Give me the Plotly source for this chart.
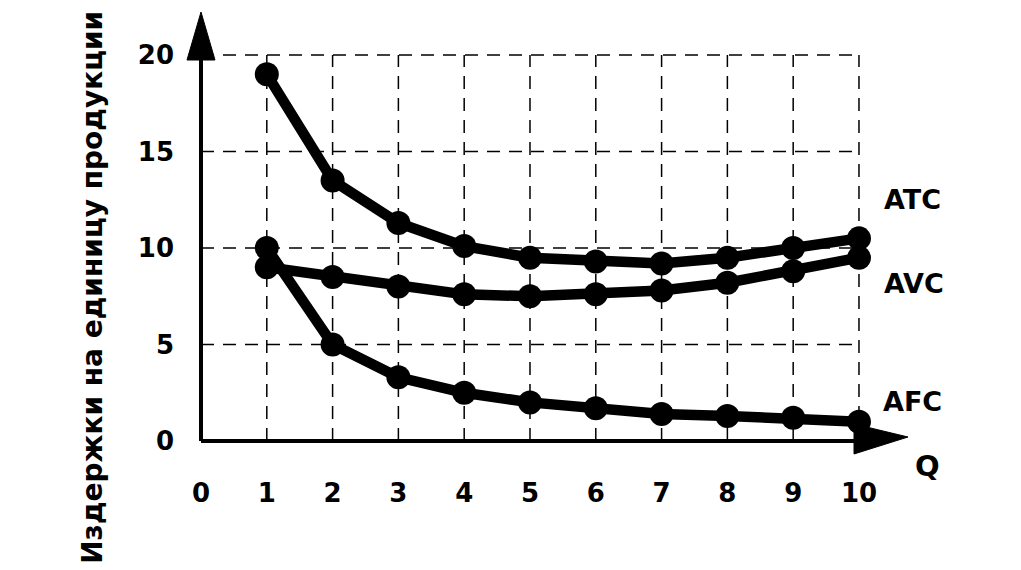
import plotly.graph_objects as go

Q = [1, 2, 3, 4, 5, 6, 7, 8, 9, 10]
ATC = [19.0, 13.5, 11.3, 10.1, 9.5, 9.3, 9.2, 9.5, 10.0, 10.5]
AVC = [9.0, 8.5, 8.0, 7.6, 7.5, 7.6, 7.8, 8.2, 8.8, 9.5]
AFC = [10.0, 5.0, 3.3, 2.5, 2.0, 1.7, 1.4, 1.3, 1.2, 1.0]
series = [("AFC", AFC), ("AVC", AVC), ("ATC", ATC)]
x_ticks = [0, 1, 2, 3, 4, 5, 6, 7, 8, 9, 10]
y_ticks = [0, 5, 10, 15, 20]
y_title = "Издержки на единицу продукции"
x_title = "Q"

FONT = "DejaVu Sans"
X_MAX, Y_MAX = 10.745, 22.23

fig = go.Figure()

for name, vals in series:
    fig.add_trace(go.Scatter(
        x=Q, y=vals, mode="lines+markers", name=name,
        line=dict(color="black", width=10.5),
        marker=dict(color="black", size=24),
        showlegend=False, cliponaxis=False,
    ))

shapes = []
# dashed grid
for xv in Q:
    shapes.append(dict(type="line", xref="x", yref="y", x0=xv, x1=xv, y0=0, y1=20,
                       line=dict(color="black", width=1.5, dash="13px,9px"), layer="below"))
for yv in y_ticks[1:]:
    shapes.append(dict(type="line", xref="x", yref="y", x0=0, x1=10, y0=yv, y1=yv,
                       line=dict(color="black", width=1.5, dash="13px,9px"), layer="below"))
# axes
shapes.append(dict(type="line", xref="paper", yref="paper", x0=0, x1=0.95, y0=0, y1=0,
                   line=dict(color="black", width=4)))
shapes.append(dict(type="line", xref="paper", yref="paper", x0=0, x1=0, y0=0, y1=0.93,
                   line=dict(color="black", width=4)))
# arrow heads (pixel sized)
shapes.append(dict(type="path", xref="paper", yref="paper", xsizemode="pixel", ysizemode="pixel",
                   xanchor=1, yanchor=0, path="M 0,4 L -54,17 L -54,-13 Z",
                   fillcolor="black", line=dict(color="black", width=1)))
shapes.append(dict(type="path", xref="paper", yref="paper", xsizemode="pixel", ysizemode="pixel",
                   xanchor=0, yanchor=1, path="M 0,0 L -14,-48 L 14,-48 Z",
                   fillcolor="black", line=dict(color="black", width=1)))

lab_font = dict(family=FONT, size=27, color="black")
common = dict(xref="paper", yref="paper", showarrow=False, xanchor="center", yanchor="middle")
annotations = [
    dict(text="<b>ATC</b>", x=1.006, y=0.562, font=lab_font, **common),
    dict(text="<b>AVC</b>", x=1.008, y=0.368, font=lab_font, **common),
    dict(text="<b>AFC</b>", x=1.006, y=0.091, font=lab_font, **common),
    dict(text="<b>" + x_title + "</b>", x=1.027, y=-0.058,
         font=dict(family=FONT, size=29, color="black"), **common),
    dict(text="<b>" + y_title + "</b>", x=-0.153, y=0.359, textangle=-90,
         font=dict(family=FONT, size=28, color="black"), **common),
]

fig.update_layout(
    width=1021, height=570,
    margin=dict(l=193, r=121, t=4, b=137),
    paper_bgcolor="white", plot_bgcolor="white",
    shapes=shapes, annotations=annotations,
    xaxis=dict(range=[0, X_MAX], tickvals=x_ticks, ticktext=[f"<b>{v}</b>" for v in x_ticks],
               showgrid=False, zeroline=False, showline=False, ticks="",
               ticklabelstandoff=34, tickfont=dict(family=FONT, size=26, color="black")),
    yaxis=dict(range=[0, Y_MAX], tickvals=y_ticks, ticktext=[f"<b>{v}</b>" for v in y_ticks],
               showgrid=False, zeroline=False, showline=False, ticks="",
               ticklabelstandoff=26, tickfont=dict(family=FONT, size=26, color="black")),
)

fig.write_html("out.html")
